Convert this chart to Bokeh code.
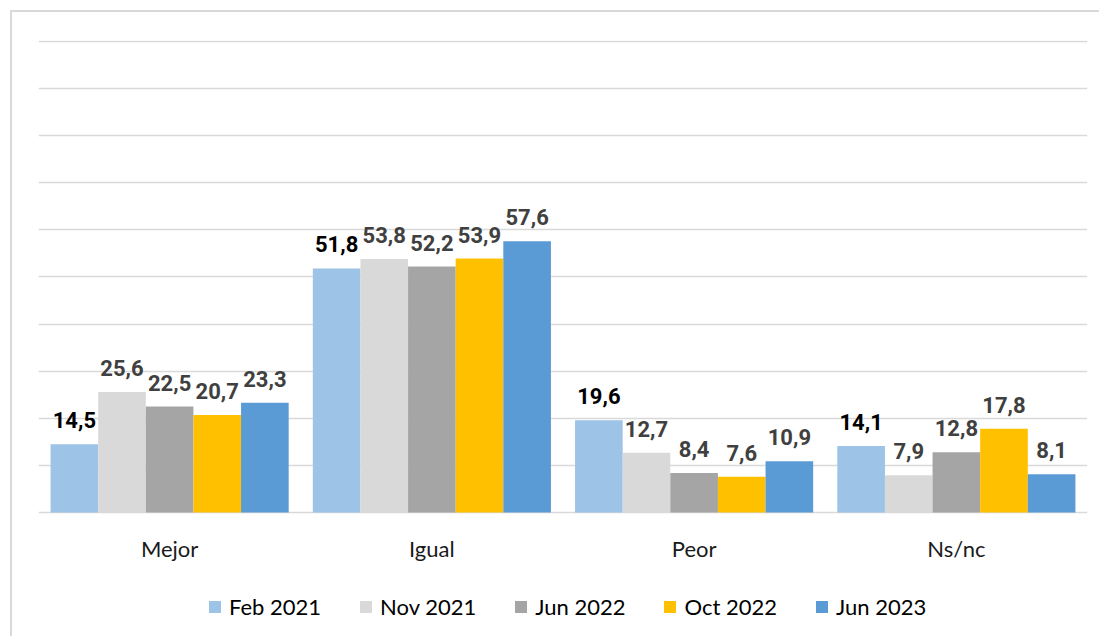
from bokeh.plotting import figure
from bokeh.models import (FactorRange, Range1d, FixedTicker, LabelSet, ColumnDataSource,
                          Legend, LegendItem, Grid)
from bokeh.core.properties import value
from bokeh.transform import dodge
from bokeh.embed import file_html
from bokeh.resources import INLINE

categories = ["Mejor", "Igual", "Peor", "Ns/nc"]
series_names = ["Feb 2021", "Nov 2021", "Jun 2022", "Oct 2022", "Jun 2023"]
feb_2021 = [14.5, 51.8, 19.6, 14.1]
nov_2021 = [25.6, 53.8, 12.7, 7.9]
jun_2022 = [22.5, 52.2, 8.4, 12.8]
oct_2022 = [20.7, 53.9, 7.6, 17.8]
jun_2023 = [23.3, 57.6, 10.9, 8.1]
series_values = [feb_2021, nov_2021, jun_2022, oct_2022, jun_2023]
colors = ["#9DC3E6", "#D9D9D9", "#A5A5A5", "#FFC000", "#5B9BD5"]
label_colors = ["#000000", "#404040", "#404040", "#404040", "#404040"]
grid_ticks = list(range(0, 101, 10))

FONT = "Lato"
BOLD_FONT = "Roboto"

W, H = 1089, 626
px_per_unit = 471 / 100.0
y_end = 100.2
below_px = 126
y_start = -below_px / px_per_unit
top_border = int(round(H - (y_end - y_start) * px_per_unit))

p = figure(x_range=FactorRange(*categories), y_range=Range1d(y_start, y_end),
           width=W, height=H, output_backend="svg", toolbar_location=None,
           x_axis_location=None, y_axis_location=None,
           min_border_left=26, min_border_right=14, min_border_top=top_border,
           min_border_bottom=0)
p.styles = {"margin-left": "10px", "margin-top": "10px",
            "border-left": "2px solid #d9d9d9", "border-top": "2px solid #d9d9d9"}
p.outline_line_color = None
p.xgrid.grid_line_color = None
p.ygrid.grid_line_color = None
grid = Grid(dimension=1, ticker=FixedTicker(ticks=grid_ticks),
            grid_line_color="#d9d9d9", grid_line_width=1.5)
p.add_layout(grid)

bw = 0.1816
items = []
for i, (name, vals) in enumerate(zip(series_names, series_values)):
    off = (i - 2) * bw
    src = ColumnDataSource(dict(x=categories, y=vals,
                                txt=[f"{v:.1f}".replace(".", ",") for v in vals]))
    r = p.vbar(x=dodge("x", off, range=p.x_range), top="y", width=bw, source=src,
               fill_color=colors[i], line_color=None)
    items.append(LegendItem(label=name, renderers=[r]))
    labels = LabelSet(x=dodge("x", off, range=p.x_range), y="y", text="txt", source=src,
                      text_align="center", text_baseline="alphabetic", y_offset=16,
                      text_font=value(BOLD_FONT), text_font_size="22px",
                      text_font_style="bold", text_color=label_colors[i])
    p.add_layout(labels)

cat_src = ColumnDataSource(dict(x=categories, y=[0] * len(categories)))
cat_labels = LabelSet(x="x", y="y", text="x", source=cat_src, text_align="center",
                      text_baseline="middle", y_offset=-36, text_font=value(FONT),
                      text_font_size="22px", text_color="#1a1a1a")
p.add_layout(cat_labels)

legend = Legend(items=items, orientation="horizontal", location=(169, 18),
                glyph_width=15, glyph_height=15, label_standoff=7, spacing=37,
                padding=0, margin=0, border_line_color=None, background_fill_alpha=0,
                label_text_font=FONT, label_text_font_size="22px",
                label_text_color="#000000")
p.add_layout(legend)

open("out.html", "w").write(file_html(p, INLINE))
